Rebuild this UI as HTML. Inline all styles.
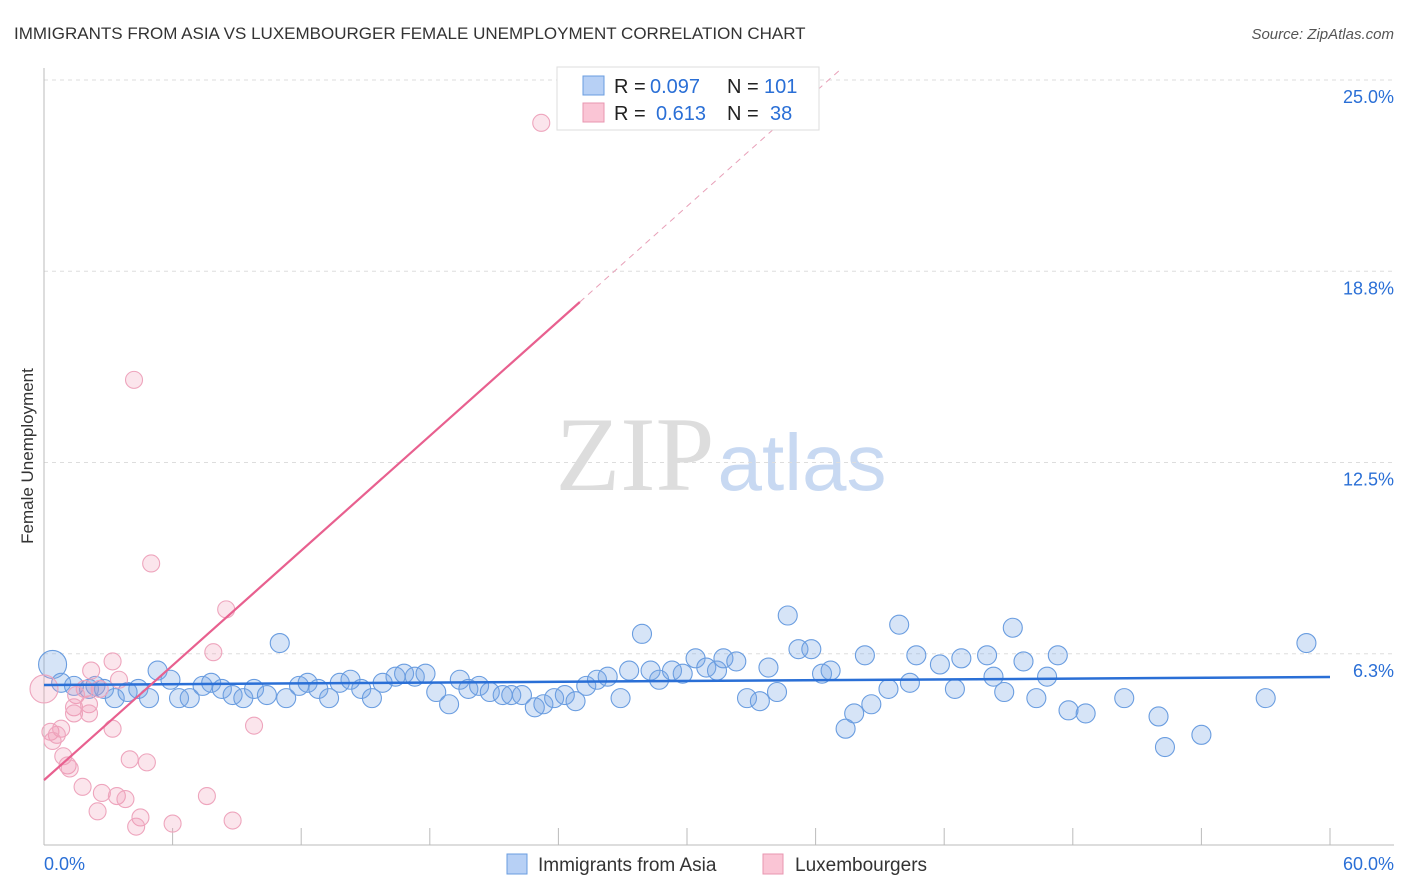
<!DOCTYPE html>
<html><head><meta charset="utf-8">
<style>
body{margin:0;background:#fff;font-family:"Liberation Sans",sans-serif;}
svg{display:block}
</style></head>
<body>
<svg width="1406" height="892" id="chart">
<text x="14" y="39" font-size="17" fill="#333">IMMIGRANTS FROM ASIA VS LUXEMBOURGER FEMALE UNEMPLOYMENT CORRELATION CHART</text>
<text x="1394" y="39" font-size="15" fill="#555" text-anchor="end" font-style="italic">Source: ZipAtlas.com</text>
<text x="33" y="456" font-size="17" fill="#333" text-anchor="middle" transform="rotate(-90 33 456)">Female Unemployment</text>
<g>
<text x="635" y="490" font-size="106" fill="#ddd" text-anchor="middle" font-family="Liberation Serif,serif">ZIP</text>
<text x="802" y="490" font-size="80" fill="#c8d9f2" text-anchor="middle">atlas</text>
</g>
<g id="grid"></g>
<g id="axes"></g>
<g id="pts"></g>
<g id="lines"></g>
<g>
<rect x="557" y="67" width="262" height="63" fill="#fff" stroke="#ddd"/>
<rect x="583" y="76" width="21" height="19" fill="#b7d0f5" stroke="#6a9de0"/>
<rect x="583" y="103" width="21" height="19" fill="#fac5d5" stroke="#e896b0"/>
<text x="614" y="93" font-size="20" fill="#222">R =</text>
<text x="650" y="93" font-size="20" fill="#2a6fd6">0.097</text>
<text x="727" y="93" font-size="20" fill="#222">N =</text>
<text x="764" y="93" font-size="20" fill="#2a6fd6">101</text>
<text x="614" y="120" font-size="20" fill="#222">R =</text>
<text x="656" y="120" font-size="20" fill="#2a6fd6">0.613</text>
<text x="727" y="120" font-size="20" fill="#222">N =</text>
<text x="770" y="120" font-size="20" fill="#2a6fd6">38</text>
</g>
<g>
<rect x="507" y="854" width="20" height="20" fill="#b7d0f5" stroke="#6a9de0"/>
<text x="538" y="871" font-size="19" fill="#333">Immigrants from Asia</text>
<rect x="763" y="854" width="20" height="20" fill="#fac5d5" stroke="#e896b0"/>
<text x="795" y="871" font-size="19" fill="#333">Luxembourgers</text>
</g>
<text x="44" y="870" font-size="18" fill="#2a6fd6">0.0%</text>
<text x="1394" y="870" font-size="18" fill="#2a6fd6" text-anchor="end">60.0%</text>
</svg>
<script>
const yTicks=[25,18.75,12.5,6.25];
const yTickLabels=["25.0%","18.8%","12.5%","6.3%"];
const xTicks=[6,12,18,24,30,36,42,48,54,60];
const asiaX=[0.4,0.8,1.4,2.1,2.4,2.8,3.3,3.9,4.4,4.9,5.3,5.9,6.3,6.8,7.4,7.8,8.3,8.8,9.3,9.8,10.4,11.0,11.3,11.9,12.3,12.8,13.3,13.8,14.3,14.8,15.3,15.8,16.4,16.8,17.3,17.8,18.3,18.9,19.4,19.8,20.3,20.8,21.4,21.8,22.3,22.9,23.3,23.8,24.3,24.8,25.3,25.8,26.3,26.9,27.3,27.9,28.3,28.7,29.3,29.8,30.4,30.9,31.4,31.7,32.3,32.8,33.4,33.8,34.2,34.7,35.2,35.8,36.3,36.7,37.4,37.8,38.3,38.6,39.4,39.9,40.4,40.7,41.8,42.5,42.8,44.0,44.3,44.8,45.2,45.7,46.3,46.8,47.3,47.8,48.6,50.4,52.0,52.3,54.0,57.0,58.9];
const asiaY=[5.9,5.3,5.2,5.1,5.2,5.1,4.8,5.0,5.1,4.8,5.7,5.4,4.8,4.8,5.2,5.3,5.1,4.9,4.8,5.1,4.9,6.6,4.8,5.2,5.3,5.1,4.8,5.3,5.4,5.1,4.8,5.3,5.5,5.6,5.5,5.6,5.0,4.6,5.4,5.1,5.2,5.0,4.9,4.9,4.9,4.5,4.6,4.8,4.9,4.7,5.2,5.4,5.5,4.8,5.7,6.9,5.7,5.4,5.7,5.6,6.1,5.8,5.7,6.1,6.0,4.8,4.7,5.8,5.0,7.5,6.4,6.4,5.6,5.7,3.8,4.3,6.2,4.6,5.1,7.2,5.3,6.2,5.9,5.1,6.1,6.2,5.5,5.0,7.1,6.0,4.8,5.5,6.2,4.4,4.3,4.8,4.2,3.2,3.6,4.8,6.6];
const luxX=[0.0,23.2,4.2,5.0,8.5,7.9,3.2,2.2,3.5,2.6,1.9,1.5,1.4,2.1,1.4,2.1,0.3,0.8,0.6,0.4,3.2,9.8,0.9,1.1,1.2,4.0,4.8,1.8,2.7,3.4,3.8,7.6,2.5,4.5,4.3,6.0,8.8];
const luxY=[5.1,23.6,15.2,9.2,7.7,6.3,6.0,5.7,5.4,5.1,5.1,4.9,4.5,4.6,4.3,4.3,3.7,3.8,3.6,3.4,3.8,3.9,2.9,2.6,2.5,2.8,2.7,1.9,1.7,1.6,1.5,1.6,1.1,0.9,0.6,0.7,0.8];
const asiaTrend=[5.23,5.49];
const luxTrend=[2.12,0.625];
const NS="http://www.w3.org/2000/svg";
const X=v=>44+v*1286/60, Y=v=>845-v*30.6;
function mk(t,p,a){const e=document.createElementNS(NS,t);for(const k in a)e.setAttribute(k,a[k]);p.appendChild(e);return e;}
const grid=document.getElementById('grid'),axes=document.getElementById('axes'),pts=document.getElementById('pts'),lines=document.getElementById('lines');
yTicks.forEach((v,i)=>{
 const l=mk('line',grid,{x1:44,x2:1394,y1:Y(v),y2:Y(v),stroke:'#ddd','stroke-dasharray':'4,4'});
 
 
 const t=mk('text',grid,{x:1394,y:Y(v)+23,'font-size':18,fill:'#2a6fd6','text-anchor':'end'});
 t.textContent=yTickLabels[i];
 
 
});
const ya=mk('line',axes,{x1:44,x2:44,y1:68,y2:845,stroke:'#bbb'});


const xa=mk('line',axes,{x1:44,x2:1394,y1:845,y2:845,stroke:'#bbb'});


xTicks.forEach(v=>{
 const t=mk('line',axes,{x1:X(v),x2:X(v),y1:828,y2:845,stroke:'#bbb'});
 
 
});
asiaX.forEach((v,i)=>{
 const c=mk('circle',pts,{cx:X(v),cy:Y(asiaY[i]),r:i==0?14:9.5,fill:'rgba(120,165,230,0.3)',stroke:'#6a9de0','stroke-width':1.1});
 
 
});
luxX.forEach((v,i)=>{
 const c=mk('circle',pts,{cx:X(v),cy:Y(luxY[i]),r:i==0?14:8.5,fill:'rgba(240,150,180,0.25)',stroke:'#eea5bd','stroke-width':1.1});
 
 
});
const bl=mk('line',lines,{x1:X(0),y1:Y(asiaTrend[0]),x2:X(60),y2:Y(asiaTrend[1]),stroke:'#2a6fd6','stroke-width':2.5});


const pl=mk('line',lines,{x1:X(0),y1:Y(luxTrend[0]),x2:X(25),y2:Y(luxTrend[0]+25*luxTrend[1]),stroke:'#e8608f','stroke-width':2.2});


const xe=(25.3-luxTrend[0])/luxTrend[1];
const pd=mk('line',lines,{x1:X(25),y1:Y(luxTrend[0]+25*luxTrend[1]),x2:X(xe),y2:Y(25.3),stroke:'#e8a0b8','stroke-width':1,'stroke-dasharray':'6,5'});


</script>
</body></html>
